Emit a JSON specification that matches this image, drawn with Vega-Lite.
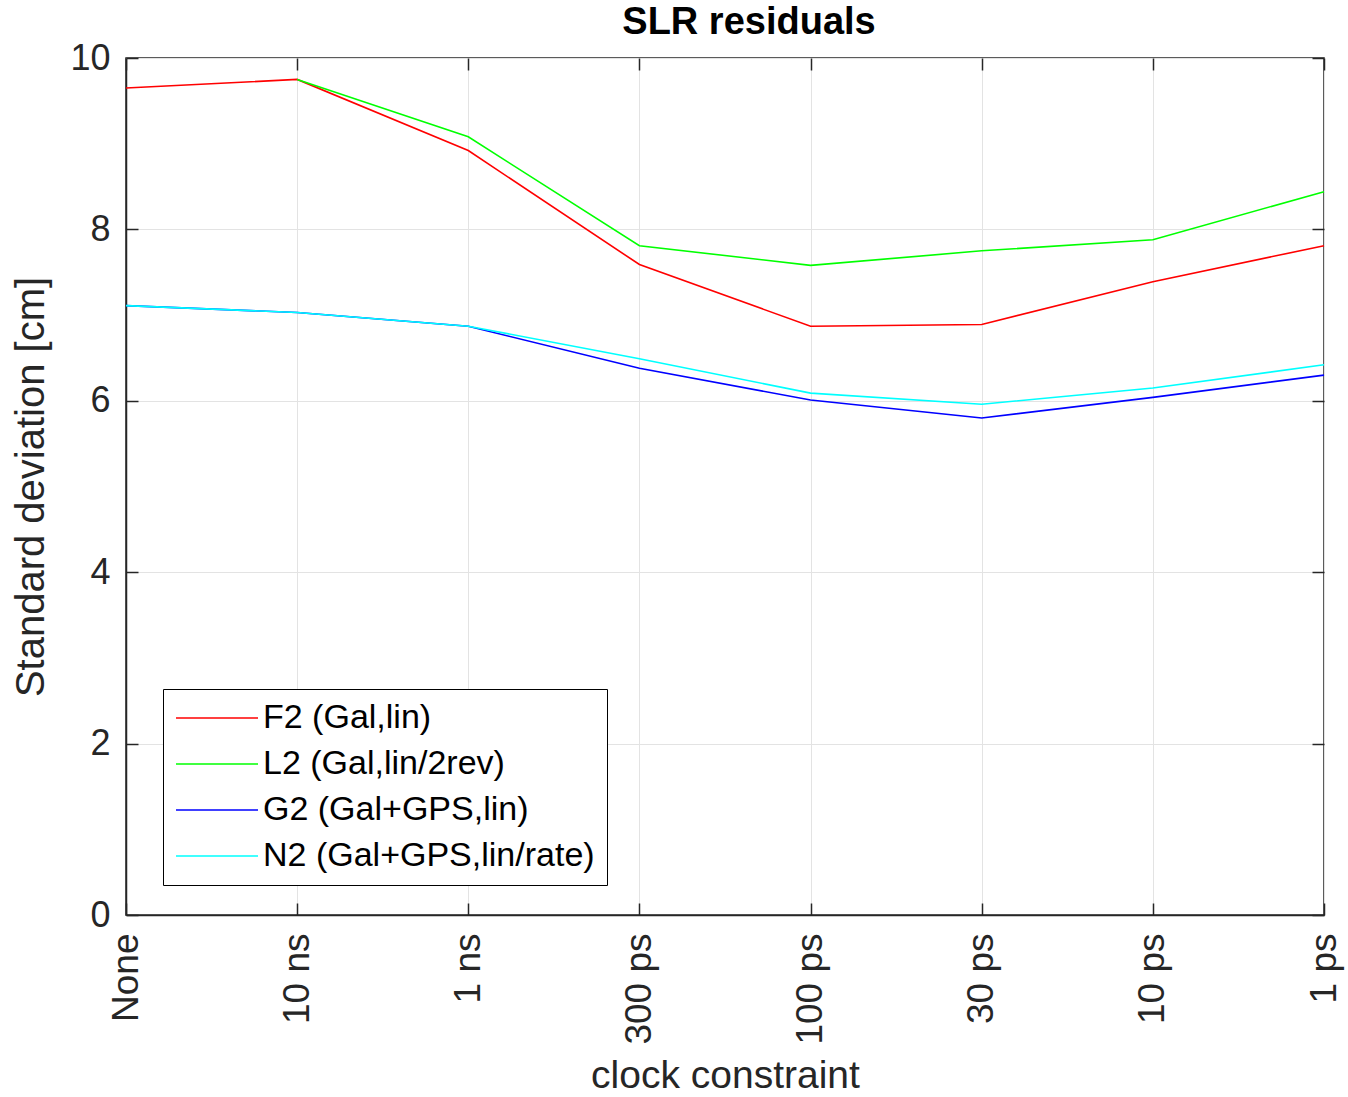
{
  "$schema": "https://vega.github.io/schema/vega-lite/v6.json",
  "autosize": "none",
  "width": 1198,
  "height": 857,
  "padding": {"left": 126, "top": 58, "right": 24, "bottom": 182},
  "background": "white",
  "config": {
    "font": "Liberation Sans",
    "view": {"stroke": "#262626", "strokeWidth": 1.5}
  },
  "title": {
    "text": "SLR residuals",
    "fontSize": 38,
    "fontWeight": "bold",
    "color": "#000000",
    "offset": -2,
    "dx": 24,
    "anchor": "middle"
  },
  "data": {
    "values": [
      {"c": "None", "s": "F2 (Gal,lin)", "v": 9.65},
      {"c": "10 ns", "s": "F2 (Gal,lin)", "v": 9.75},
      {"c": "1 ns", "s": "F2 (Gal,lin)", "v": 8.92},
      {"c": "300 ps", "s": "F2 (Gal,lin)", "v": 7.59},
      {"c": "100 ps", "s": "F2 (Gal,lin)", "v": 6.87},
      {"c": "30 ps", "s": "F2 (Gal,lin)", "v": 6.89},
      {"c": "10 ps", "s": "F2 (Gal,lin)", "v": 7.39},
      {"c": "1 ps", "s": "F2 (Gal,lin)", "v": 7.81},
      {"c": "10 ns", "s": "L2 (Gal,lin/2rev)", "v": 9.75},
      {"c": "1 ns", "s": "L2 (Gal,lin/2rev)", "v": 9.08},
      {"c": "300 ps", "s": "L2 (Gal,lin/2rev)", "v": 7.81},
      {"c": "100 ps", "s": "L2 (Gal,lin/2rev)", "v": 7.58},
      {"c": "30 ps", "s": "L2 (Gal,lin/2rev)", "v": 7.75},
      {"c": "10 ps", "s": "L2 (Gal,lin/2rev)", "v": 7.88},
      {"c": "1 ps", "s": "L2 (Gal,lin/2rev)", "v": 8.44},
      {"c": "None", "s": "G2 (Gal+GPS,lin)", "v": 7.11},
      {"c": "10 ns", "s": "G2 (Gal+GPS,lin)", "v": 7.03},
      {"c": "1 ns", "s": "G2 (Gal+GPS,lin)", "v": 6.87},
      {"c": "300 ps", "s": "G2 (Gal+GPS,lin)", "v": 6.38},
      {"c": "100 ps", "s": "G2 (Gal+GPS,lin)", "v": 6.01},
      {"c": "30 ps", "s": "G2 (Gal+GPS,lin)", "v": 5.8},
      {"c": "10 ps", "s": "G2 (Gal+GPS,lin)", "v": 6.04},
      {"c": "1 ps", "s": "G2 (Gal+GPS,lin)", "v": 6.3},
      {"c": "None", "s": "N2 (Gal+GPS,lin/rate)", "v": 7.11},
      {"c": "10 ns", "s": "N2 (Gal+GPS,lin/rate)", "v": 7.03},
      {"c": "1 ns", "s": "N2 (Gal+GPS,lin/rate)", "v": 6.87},
      {"c": "300 ps", "s": "N2 (Gal+GPS,lin/rate)", "v": 6.49},
      {"c": "100 ps", "s": "N2 (Gal+GPS,lin/rate)", "v": 6.09},
      {"c": "30 ps", "s": "N2 (Gal+GPS,lin/rate)", "v": 5.96},
      {"c": "10 ps", "s": "N2 (Gal+GPS,lin/rate)", "v": 6.15},
      {"c": "1 ps", "s": "N2 (Gal+GPS,lin/rate)", "v": 6.42}
    ]
  },
  "layer": [
    {
      "mark": {"type": "line", "strokeWidth": 1.6},
      "encoding": {
        "x": {
          "field": "c",
          "type": "ordinal",
          "sort": ["None", "10 ns", "1 ns", "300 ps", "100 ps", "30 ps", "10 ps", "1 ps"],
          "scale": {"type": "point", "padding": 0},
          "axis": {
            "title": "clock constraint",
            "titleFontSize": 39,
            "titleFontWeight": "normal",
            "titleColor": "#262626",
            "titlePadding": 12,
            "labelAngle": -90,
            "labelAlign": "right",
            "labelBaseline": "middle",
            "labelFontSize": 37,
            "labelColor": "#262626",
            "labelPadding": 30,
            "grid": true,
            "gridColor": "#e3e3e3",
            "gridWidth": 1,
            "domainColor": "#262626",
            "domainWidth": 1.5,
            "tickColor": "#262626",
            "tickSize": -12,
            "tickWidth": 1.5
          }
        },
        "y": {
          "field": "v",
          "type": "quantitative",
          "scale": {"domain": [0, 10], "nice": false, "zero": true},
          "axis": {
            "title": "Standard deviation [cm]",
            "titleFontSize": 40,
            "titleFontWeight": "normal",
            "titleColor": "#262626",
            "titlePadding": 18,
            "values": [0, 2, 4, 6, 8, 10],
            "labelFontSize": 36,
            "labelColor": "#262626",
            "labelPadding": 28,
            "grid": true,
            "gridColor": "#e3e3e3",
            "gridWidth": 1,
            "domainColor": "#262626",
            "domainWidth": 1.5,
            "tickColor": "#262626",
            "tickSize": -12,
            "tickWidth": 1.5
          }
        },
        "color": {
          "field": "s",
          "type": "nominal",
          "sort": ["F2 (Gal,lin)", "L2 (Gal,lin/2rev)", "G2 (Gal+GPS,lin)", "N2 (Gal+GPS,lin/rate)"],
          "scale": {
            "domain": ["F2 (Gal,lin)", "L2 (Gal,lin/2rev)", "G2 (Gal+GPS,lin)", "N2 (Gal+GPS,lin/rate)"],
            "range": ["#ff0000", "#00ff00", "#0000ff", "#00ffff"]
          },
          "legend": {
            "title": null,
            "orient": "none",
            "legendX": 37,
            "legendY": 631,
            "direction": "vertical",
            "symbolType": "stroke",
            "symbolSize": 6724,
            "symbolStrokeWidth": 1.6,
            "clipHeight": 34,
            "labelFontSize": 34,
            "labelColor": "#000000",
            "labelOffset": 4,
            "rowPadding": 12,
            "padding": 12,
            "strokeColor": "#000000",
            "fillColor": "white",
            "labelLimit": 500
          }
        },
        "order": {"field": "s"}
      }
    },
    {
      "mark": {"type": "line", "opacity": 0},
      "encoding": {
        "x": {
          "field": "c",
          "type": "ordinal",
          "sort": ["None", "10 ns", "1 ns", "300 ps", "100 ps", "30 ps", "10 ps", "1 ps"],
          "scale": {"type": "point", "padding": 0},
          "axis": {
            "orient": "top",
            "title": null,
            "labels": false,
            "grid": false,
            "domain": false,
            "tickColor": "#262626",
            "tickSize": -12,
            "tickWidth": 1.5
          }
        },
        "y": {
          "field": "v",
          "type": "quantitative",
          "scale": {"domain": [0, 10], "nice": false, "zero": true},
          "axis": {
            "orient": "right",
            "title": null,
            "labels": false,
            "values": [0, 2, 4, 6, 8, 10],
            "grid": false,
            "domain": false,
            "tickColor": "#262626",
            "tickSize": -12,
            "tickWidth": 1.5
          }
        },
        "detail": {"field": "s"}
      }
    }
  ],
  "resolve": {"scale": {"x": "independent", "y": "independent"}}
}
